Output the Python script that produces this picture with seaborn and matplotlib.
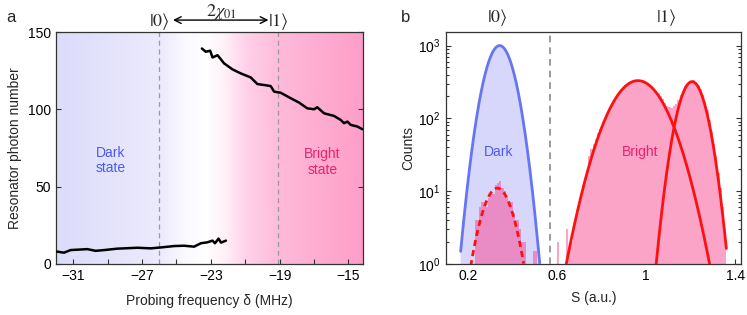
import numpy as np
import pandas as pd
import matplotlib
matplotlib.use("Agg")
import matplotlib.pyplot as plt
import matplotlib.ticker as mticker
from matplotlib.colors import LinearSegmentedColormap
import seaborn as sns

# ---------------- data: panel a ----------------
dark_freq = [-31.93, -31.54, -31.15, -30.18, -29.7, -29.2, -28.44, -27.27, -26.5, -25.9,
             -25.13, -24.55, -23.97, -23.58, -23.2, -22.9, -22.76, -22.55, -22.41, -22.12]
dark_photons = [8.0, 7.3, 9.0, 9.6, 8.5, 9.0, 9.9, 10.5, 10.1, 10.7,
                11.6, 11.8, 11.2, 13.4, 14.0, 15.1, 13.4, 16.4, 13.8, 15.1]
bright_freq = [-23.52, -23.29, -23.04, -22.9, -22.61, -22.23, -21.74, -21.26, -20.68, -20.29,
               -19.91, -19.52, -19.32, -18.94, -18.35, -17.87, -17.39, -17.0, -16.81, -16.42,
               -15.84, -15.45, -15.26, -15.06, -14.87, -14.48, -14.19]
bright_photons = [139.4, 137.3, 138.0, 133.6, 135.1, 129.8, 125.9, 123.3, 120.7, 116.4,
                  115.8, 115.1, 111.5, 110.8, 107.2, 104.4, 100.7, 100.1, 101.4, 97.5,
                  95.8, 93.2, 91.1, 92.1, 90.0, 88.9, 87.2]
state_freqs = [-26.0, -19.1]
freq_ticks = [-31, -27, -23, -19, -15]

# ---------------- data: panel b ----------------
# pink histogram of the bright-state data lying inside the dark region (bins of 0.01 from 0.23)
low_bin_start = 0.23
low_counts = [4, 4, 6, 7, 7, 6, 8, 9, 9, 12, 13, 14, 11, 10, 8, 7, 7, 5, 4, 4,
              3, 2, 2, 1, 1, 1, 1.5, 1.5]
# pink histogram of the bright-state data (bins of 0.01 from 0.60)
high_bin_start = 0.60
high_counts = [2, 0, 0, 0, 3, 1.5, 2, 3, 4, 5,
               8, 12, 14, 19, 30, 38, 45, 52, 62, 72,
               80, 95, 112, 130, 150, 170, 195, 215, 240, 262,
               285, 300, 315, 325, 330, 335, 340, 338, 335, 320,
               300, 285, 270, 250, 235, 225, 200, 182, 165, 150,
               142, 140, 148, 160, 180, 210, 240, 275, 300, 320,
               330, 332, 315, 290, 255, 212, 170, 130, 96, 68,
               45, 30, 18, 11, 6, 3]
bin_width = 0.01
# Gaussian fits: amplitude, centre, sigma, S-range drawn
dark_fit = (1000, 0.342, 0.0485, 0.167, 0.522)
leak_fit = (11, 0.332, 0.054, 0.212, 0.450)
bright_fit1 = (330, 0.963, 0.0945, 0.641, 1.285)
bright_fit2 = (320, 1.206, 0.0474, 1.045, 1.360)
threshold = 0.57

# ---------------- style ----------------
sns.set_theme(style="ticks")
plt.rcParams["font.family"] = ["Liberation Sans", "DejaVu Sans"]
plt.rcParams["axes.linewidth"] = 0.9
plt.rcParams["axes.edgecolor"] = "#333333"

fig = plt.figure(figsize=(7.47, 3.15), dpi=100)
axa = fig.add_axes([0.075, 0.162, 0.411, 0.736])
axb = fig.add_axes([0.5967, 0.162, 0.395, 0.736])

# ---------------- panel a ----------------
xmin, xmax = -32.0, -14.15
stops = [(-32.0, (220, 220, 251)), (-26.0, (236, 234, 252)), (-24.5, (250, 250, 255)),
         (-23.3, (255, 255, 255)), (-22.2, (255, 240, 248)), (-21.0, (255, 210, 233)),
         (-19.0, (255, 186, 218)), (-14.15, (254, 158, 200))]
cm = LinearSegmentedColormap.from_list(
    "bg", [((p - xmin) / (xmax - xmin), tuple(c / 255 for c in col)) for p, col in stops])
grad = np.linspace(0, 1, 512).reshape(1, -1)
axa.imshow(grad, extent=[xmin, xmax, 0, 150], aspect="auto", cmap=cm, zorder=0,
           interpolation="bilinear")

for f in state_freqs:
    axa.axvline(f, color="#9a9a9a", lw=0.9, ls=(0, (4, 3)), zorder=1)

sns.lineplot(x=dark_freq, y=dark_photons, sort=False, color="black", lw=1.8, ax=axa, zorder=3)
sns.lineplot(x=bright_freq, y=bright_photons, sort=False, color="black", lw=1.8, ax=axa, zorder=3)

axa.set_xlim(xmin, xmax)
axa.set_ylim(0, 150)
axa.set_xticks(freq_ticks)
axa.set_xticklabels([f"\u2212{abs(t)}" for t in freq_ticks])
axa.xaxis.set_minor_locator(mticker.FixedLocator([-29, -25, -21, -17]))
axa.set_yticks([0, 50, 100, 150])
axa.tick_params(axis="both", which="both", direction="in", labelsize=10, right=True,
                top=False, length=3.5, width=0.8, colors="#333333", labelcolor="black")
axa.set_xlabel("Probing frequency \u03b4 (MHz)", fontsize=10, labelpad=8)
axa.set_ylabel("Resonator photon number", fontsize=10, labelpad=4)

axa.text(-28.8, 67, "Dark\nstate", color="#4a5cf0", fontsize=10, ha="center", va="center",
         linespacing=1.1)
axa.text(-16.5, 66, "Bright\nstate", color="#f0206e", fontsize=10, ha="center", va="center",
         linespacing=1.1)

axa.text(-26.0, 1.048, r"$|0\rangle$", transform=axa.get_xaxis_transform(), ha="center",
         va="center", fontsize=13, math_fontfamily="stix")
axa.text(-19.1, 1.048, r"$|1\rangle$", transform=axa.get_xaxis_transform(), ha="center",
         va="center", fontsize=13, math_fontfamily="stix")
axa.annotate("", xy=(-19.65, 1.052), xycoords=("data", "axes fraction"),
             xytext=(-25.2, 1.052), textcoords=("data", "axes fraction"),
             arrowprops=dict(arrowstyle="<->", lw=1.0, color="black", shrinkA=0, shrinkB=0))
axa.text(-22.4, 1.088, r"$2\chi_{01}$", transform=axa.get_xaxis_transform(), ha="center",
         va="center", fontsize=13, math_fontfamily="stix")
fig.text(0.008, 0.945, "a", fontsize=12, ha="left", va="center")

# ---------------- panel b ----------------
def gauss(p, n=300):
    a, mu, s, lo, hi = p
    x = np.linspace(lo, hi, n)
    return x, a * np.exp(-(x - mu) ** 2 / (2 * s * s))

axb.set_yscale("log")

xd, yd = gauss(dark_fit)
axb.fill_between(xd, 1e-3, yd, color="#d7d7fb", lw=0, zorder=1)

low_edges = low_bin_start + bin_width * np.arange(len(low_counts))
high_edges = high_bin_start + bin_width * np.arange(len(high_counts))
axb.bar(low_edges, low_counts, width=bin_width, align="edge", bottom=1e-3,
        color="#e98cc6", linewidth=0, zorder=2)
axb.bar(high_edges, high_counts, width=bin_width, align="edge", bottom=1e-3,
        color="#fba4c8", linewidth=0, zorder=2)

sns.lineplot(x=xd, y=yd, sort=False, color="#6675f2", lw=2.0, ax=axb, zorder=4)
xl, yl = gauss(leak_fit)
axb.plot(xl, yl, color="#ff1010", lw=2.0, ls=(0, (2.2, 1.5)), zorder=4)
for p in (bright_fit1, bright_fit2):
    xb, yb = gauss(p)
    sns.lineplot(x=xb, y=yb, sort=False, color="#ff1010", lw=2.0, ax=axb, zorder=4)

axb.axvline(threshold, color="#8a8a8a", lw=1.2, ls=(0, (4, 3)), zorder=3)

axb.set_ylim(1, 1530)
axb.set_xlim(0.1, 1.425)
axb.set_xticks([0.2, 0.6, 1.0, 1.4])
axb.xaxis.set_major_formatter(mticker.FuncFormatter(lambda v, _: f"{v:g}"))
axb.xaxis.set_minor_locator(mticker.FixedLocator([0.4, 0.8, 1.2]))
axb.yaxis.set_major_locator(mticker.LogLocator(base=10, numticks=10))
axb.yaxis.set_minor_locator(mticker.LogLocator(base=10, subs=np.arange(2, 10), numticks=20))
axb.yaxis.set_minor_formatter(mticker.NullFormatter())
axb.tick_params(axis="both", which="both", direction="in", labelsize=10, right=True,
                top=False, colors="#333333", labelcolor="black", width=0.8)
axb.tick_params(axis="both", which="major", length=3.5)
axb.tick_params(axis="both", which="minor", length=2)
axb.set_xlabel("S (a.u.)", fontsize=10, labelpad=6)
axb.set_ylabel("Counts", fontsize=10, labelpad=2)

axb.text(0.338, 34, "Dark", color="#4a5cf0", fontsize=10, ha="center", va="center")
axb.text(0.975, 34, "Bright", color="#f0206e", fontsize=10, ha="center", va="center")
axb.text(0.332, 1.062, r"$|0\rangle$", transform=axb.get_xaxis_transform(), ha="center",
         va="center", fontsize=13, math_fontfamily="stix")
axb.text(1.09, 1.062, r"$|1\rangle$", transform=axb.get_xaxis_transform(), ha="center",
         va="center", fontsize=13, math_fontfamily="stix")
fig.text(0.537, 0.945, "b", fontsize=12, ha="left", va="center")

fig.savefig("out.png", dpi=100)
